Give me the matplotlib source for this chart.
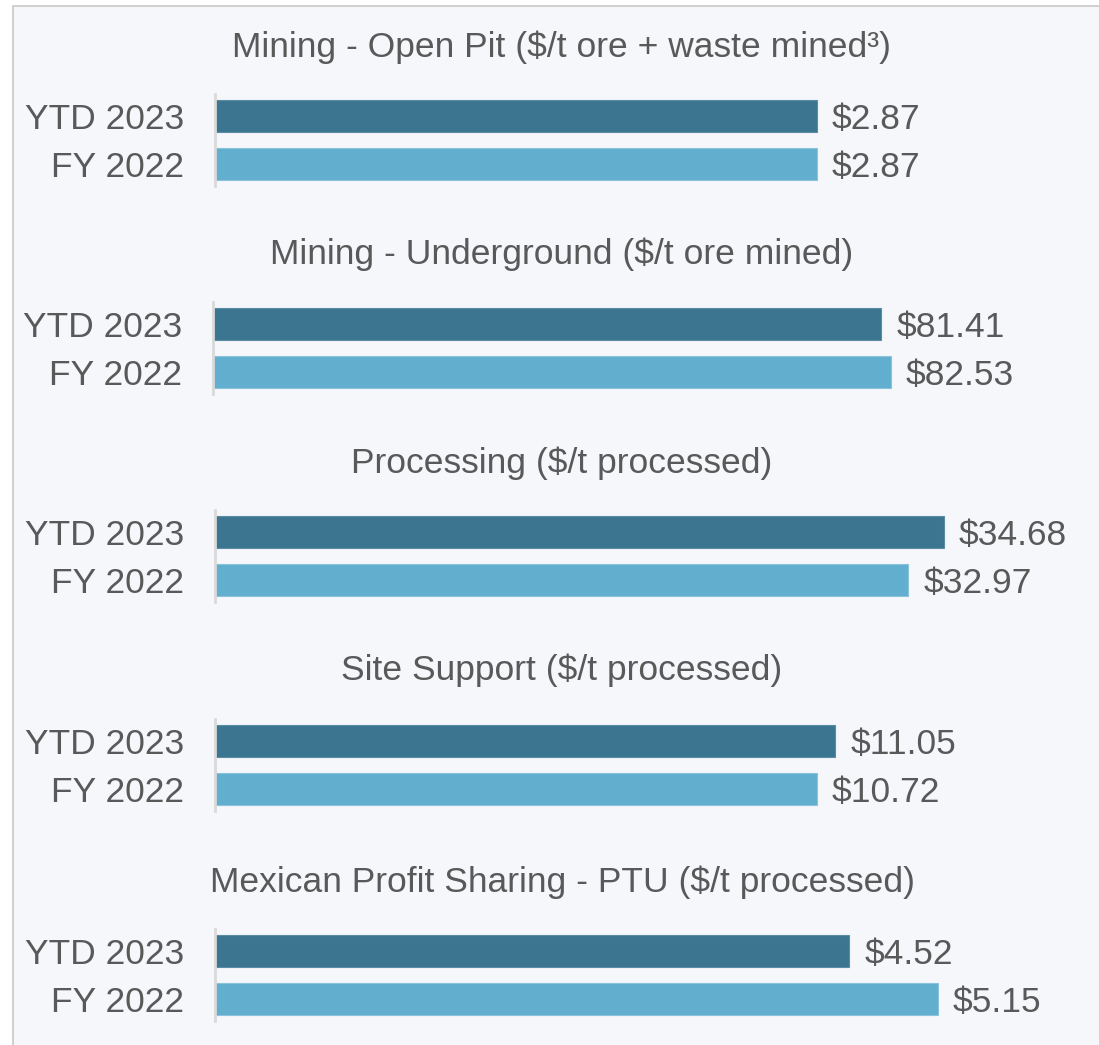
import matplotlib
matplotlib.use('Agg')
import matplotlib.pyplot as plt
from matplotlib.patches import Rectangle

# ------------------ Data ------------------
titles = [
    'Mining - Open Pit ($/t ore + waste mined\u00b3)',
    'Mining - Underground ($/t ore mined)',
    'Processing ($/t processed)',
    'Site Support ($/t processed)',
    'Mexican Profit Sharing - PTU ($/t processed)',
]
periods = ['YTD 2023', 'FY 2022']
ytd_2023 = [2.87, 81.41, 34.68, 11.05, 4.52]
fy_2022 = [2.87, 82.53, 32.97, 10.72, 5.15]

# ------------------ Layout (pixels) ------------------
W, H = 1099, 1045
bg = '#F5F7FB'
txt = '#595959'
dark, light = '#3B7590', '#62AECF'
fs = 25.5
xmax = [4.15, 106.2, 41.4, 15.5, 6.2]      # per-panel scale
ytd_center = [116, 324, 532, 741, 951]
title_y = [47, 254, 463, 670, 882]
left_px = [215, 213, 215, 215, 215]
right_px = 1085

plt.rcParams['font.family'] = ['Liberation Sans', 'DejaVu Sans']

fig = plt.figure(figsize=(W / 100, H / 100), dpi=100)
fig.patch.set_facecolor('white')
fig.patches.append(Rectangle((13 / W, -0.1), 1.2, 1 - 6 / H + 0.1,
                             transform=fig.transFigure, facecolor=bg,
                             edgecolor='#C8C8C8', lw=1.2, zorder=-5))

for i in range(len(titles)):
    top = ytd_center[i] - 22
    bottom = ytd_center[i] + 48 + 22
    ax = fig.add_axes([left_px[i] / W, 1 - bottom / H,
                       (right_px - left_px[i]) / W, (bottom - top) / H])
    ax.set_zorder(2)
    ax.patch.set_alpha(0)
    vals = [ytd_2023[i], fy_2022[i]]
    bars = ax.barh([0, 1], vals, height=0.667, color=[dark, light],
                   edgecolor=['#5A8CA5', '#8CC3DC'], lw=0.8)
    labs = ax.bar_label(bars, labels=['$%.2f' % v for v in vals], padding=11,
                        fontsize=fs, color=txt)
    for t in labs:
        t.set_va('center_baseline')
    ax.set_xlim(0, xmax[i])
    ax.set_ylim(1.458, -0.458)
    ax.set_yticks([0, 1], periods)
    ax.tick_params(axis='y', length=0, pad=22, labelsize=fs, labelcolor=txt)
    ax.set_xticks([])
    for s in ['top', 'right', 'bottom']:
        ax.spines[s].set_visible(False)
    ax.spines['left'].set_color('#D9D9D9')
    ax.spines['left'].set_linewidth(2)

    fig.text(562 / W, 1 - title_y[i] / H, titles[i], ha='center', va='center',
             fontsize=fs, color=txt)

fig.savefig('out.png', dpi=100, facecolor=fig.get_facecolor())
